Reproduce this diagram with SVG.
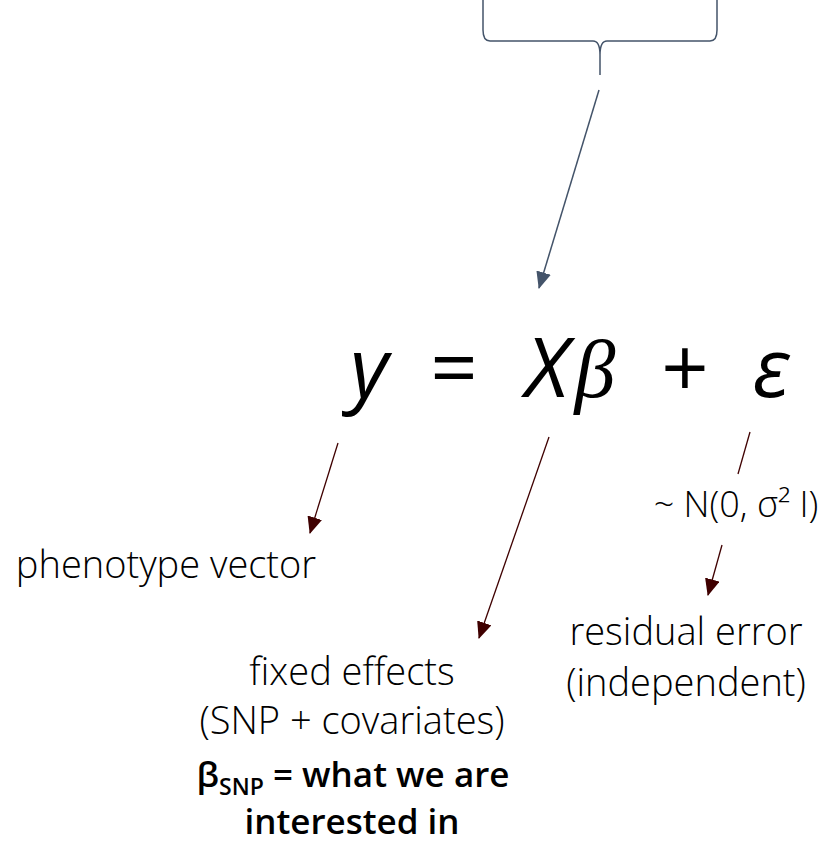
<svg xmlns="http://www.w3.org/2000/svg" width="836" height="845" viewBox="0 0 836 845">
<style>
.lbl{font-family:"Open Sans","Liberation Sans",sans-serif;font-weight:300;font-size:38px;fill:#000;text-anchor:middle}
.bold{font-weight:600;font-size:35px}
.eq{font-family:"Open Sans","Liberation Sans",sans-serif;font-style:italic;font-weight:400;font-size:83px;fill:#000;text-anchor:middle}
.op{font-style:normal;font-weight:400}
.eqs{font-family:"DejaVu Serif","Liberation Serif",serif;font-style:italic;font-weight:400;font-size:78px;fill:#000;text-anchor:middle}
.slate{stroke:#44546A;stroke-width:1.5;fill:none}
.red{stroke:#3F0000;stroke-width:1.3;fill:none}
</style>
<defs>
<marker id="ahS" markerUnits="userSpaceOnUse" markerWidth="17" markerHeight="15" refX="16" refY="7.5" orient="auto"><path d="M0,0 L17,7.5 L0,15 Z" fill="#44546A"/></marker>
<marker id="ahR" markerUnits="userSpaceOnUse" markerWidth="17" markerHeight="15" refX="16" refY="7.5" orient="auto"><path d="M0,0 L17,7.5 L0,15 Z" fill="#3F0000"/></marker>
</defs>
<g id="brace">
<path class="slate" d="M483,0 L483,30 Q483,41 490,41 L593,41 Q600,41 600,55 L600,75 M600,75 L600,55 Q600,41 607,41 L710,41 Q717,41 717,30 L717,0"/>
</g>
<g id="equation">
<text class="eq" x="369" y="397">y</text>
<text class="eq op" x="454" y="397">=</text>
<text class="eq" x="547" y="397">X</text>
<text class="eq" x="595" y="397" style="font-family:'Liberation Serif','DejaVu Serif',serif;font-size:82px">β</text>
<text class="eq op" x="685" y="397">+</text>
<text class="eq" x="771" y="397">ε</text>
</g>
<g id="connectors">
<line class="slate" x1="599" y1="90" x2="539" y2="288" marker-end="url(#ahS)"/>
<line class="red" x1="338" y1="443" x2="310" y2="533" marker-end="url(#ahR)"/>
<line class="red" x1="549" y1="437" x2="479" y2="638" marker-end="url(#ahR)"/>
<line class="red" x1="750" y1="432" x2="738" y2="474"/>
<line class="red" x1="722" y1="545" x2="708" y2="595" marker-end="url(#ahR)"/>
</g>
<g id="phenotype">
<text class="lbl" x="166" y="578">phenotype vector</text>
</g>
<g id="distribution">
<text class="lbl" x="736" y="517" style="font-size:36px">~ N(0, σ² I)</text>
</g>
<g id="residual">
<text class="lbl" x="686" y="645">residual error</text>
<text class="lbl" x="686" y="696">(independent)</text>
</g>
<g id="fixed">
<text class="lbl" x="352" y="685">fixed effects</text>
<text class="lbl" x="352" y="734">(SNP + covariates)</text>
<text class="lbl bold" x="353" y="787">β<tspan font-size="23" dy="8">SNP</tspan><tspan dy="-8"> = what we are</tspan></text>
<text class="lbl bold" x="352" y="834">interested in</text>
</g>
</svg>
